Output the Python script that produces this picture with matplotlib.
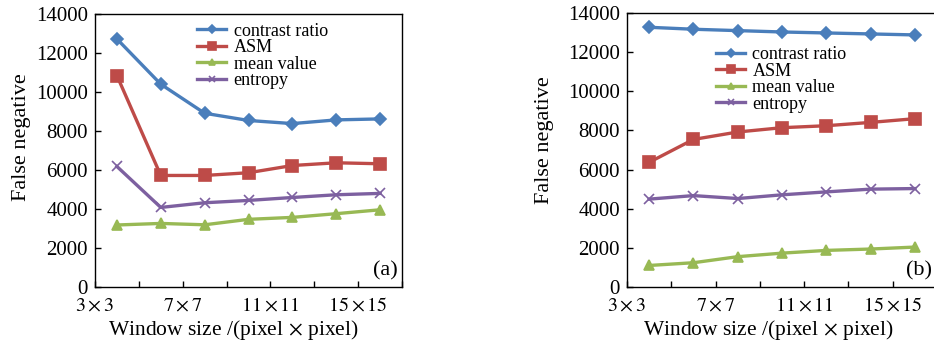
import numpy as np
import matplotlib
matplotlib.use('Agg')
import matplotlib.pyplot as plt

plt.rcParams['font.family'] = ['Liberation Serif', 'DejaVu Serif']
plt.rcParams['mathtext.fontset'] = 'stix'

# dados
janelas = ['3×3', '5×5', '7×7', '9×9', '11×11', '13×13', '15×15']
rotulos_x = [r'$3\times3$', '', r'$7\times7$', '', r'$11\times11$', '',
             r'$15\times15$', '']

contraste_a = [12720, 10400, 8910, 8540, 8380, 8570, 8620]
asm_a = [10840, 5720, 5720, 5860, 6230, 6370, 6320]
media_a = [3180, 3260, 3190, 3470, 3570, 3760, 3960]
entropia_a = [6180, 4080, 4320, 4440, 4590, 4730, 4800]

contraste_b = [13270, 13170, 13100, 13030, 12980, 12930, 12880]
asm_b = [6370, 7540, 7920, 8140, 8240, 8410, 8600]
media_b = [1100, 1240, 1550, 1730, 1870, 1940, 2040]
entropia_b = [4490, 4670, 4520, 4710, 4860, 5000, 5030]

nomes = ['contrast ratio', 'ASM', 'mean value', 'entropy']
cores = ['#4a7ebb', '#be4b48', '#98b954', '#7d60a0']
marcas = ['D', 's', '^', 'x']
tam = [6.5, 8.5, 7.5, 7.5]

fig = plt.figure(figsize=(9.34, 3.4), dpi=100)
ax1 = fig.add_axes([95/934, 53/340, 307/934, 273/340])
ax2 = fig.add_axes([627/934, 53/340, 310/934, 274/340])

x = np.arange(len(janelas)) + 0.5


def GRAFICO(ax, series, letra, leg_pos, ylab_xy, xlab_x):
    for i, s in enumerate(series):
        ax.plot(x, s, color=cores[i], marker=marcas[i], markersize=tam[i],
                linewidth=2.4, markeredgewidth=1.2, label=nomes[i])
    ax.set_xlim(0, 7)
    ax.set_ylim(0, 14000)
    ax.set_xticks(np.arange(8))
    ax.set_xticklabels(rotulos_x)
    ax.set_yticks(np.arange(0, 14001, 2000))
    ax.tick_params(direction='in', length=4, width=1)
    ax.tick_params(axis='y', pad=5, labelsize=15)
    ax.tick_params(axis='x', pad=7, labelsize=14.5)
    for sp in ax.spines.values():
        sp.set_linewidth(1.0)
    ax.set_xlabel(r'Window size /(pixel$\,\times\,$pixel)', fontsize=15.5)
    ax.xaxis.set_label_coords(xlab_x, -0.112)
    ax.set_ylabel('False negative', fontsize=16)
    ax.yaxis.set_label_coords(*ylab_xy)
    ax.text(0.985, 0.025, letra, transform=ax.transAxes, fontsize=16,
            ha='right', va='bottom')
    ax.legend(loc='upper left', bbox_to_anchor=leg_pos, frameon=False,
              fontsize=13, handlelength=1.6, handletextpad=0.4,
              labelspacing=-0.03, borderaxespad=0, markerscale=0.65)


GRAFICO(ax1, [contraste_a, asm_a, media_a, entropia_a], '(a)', (0.31, 0.995),
        (-0.21, 0.55), 0.45)
GRAFICO(ax2, [contraste_b, asm_b, media_b, entropia_b], '(b)', (0.265, 0.905),
        (-0.235, 0.537), 0.455)

fig.savefig('out.png', dpi=100)
